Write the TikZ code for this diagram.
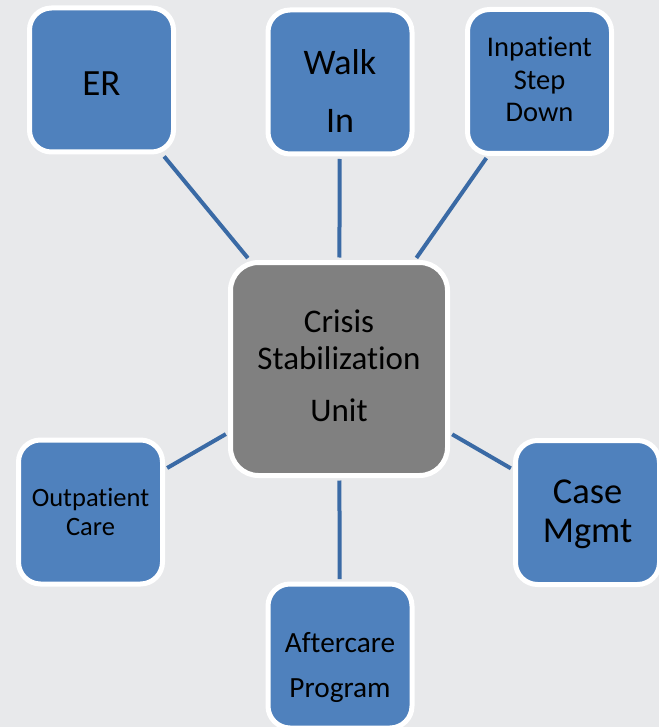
\documentclass[tikz,border=0pt]{standalone}
\usepackage{fontspec}
\setmainfont{Carlito}[Ligatures=NoCommon]
\definecolor{csbg}{RGB}{232,233,235}
\definecolor{csblue}{RGB}{79,129,189}
\definecolor{csgray}{RGB}{128,128,128}
\definecolor{csline}{RGB}{58,106,165}
\usetikzlibrary{positioning}

\begin{document}
\begin{tikzpicture}[x=1pt,y=-1pt,
  box/.style={draw=white,line width=5pt,rounded corners=22pt,fill=csblue,minimum width=144pt,minimum height=144pt,inner sep=0pt},
  hub/.style={box,fill=csgray,minimum width=217pt,minimum height=213pt,rounded corners=28pt},
  txt/.style={align=center,inner sep=0pt,text=black},
  link/.style={csline,line width=4pt,shorten <=2.5pt,shorten >=2.5pt}]
  \useasboundingbox (0,0) rectangle (659,727);
  \fill[csbg] (0,0) rectangle (659,727);
  % Hub
  \node[hub] (csu) at (339,369) {};
  % Surrounding services
  \node[box] (er) at (101.5,80) {};
  \node[box] (walk) at (340,82) {};
  \node[box] (inpt) at (539.5,81.5) {};
  \node[box] (casem) at (587.5,512.5) {};
  \node[box] (outpt) at (90.5,512) {};
  \node[box] (after) at (340,656) {};
  % Labels
  \node[txt,font=\fontsize{33pt}{37pt}\selectfont] (csu-t) at ([yshift=3pt]csu.center) {Crisis\\Stabilization\\[15pt]Unit};
  \node[txt,font=\fontsize{37pt}{43pt}\selectfont] (er-t) at ([yshift=-4pt]er.center) {ER};
  \node[txt,font=\fontsize{36pt}{58pt}\selectfont] (walk-t) at ([yshift=-9.5pt]walk.center) {Walk\\In};
  \node[txt,font=\fontsize{28.5pt}{32.5pt}\selectfont] (inpt-t) at ([yshift=2pt]inpt.center) {Inpatient\\Step\\Down};
  \node[txt,font=\fontsize{36.5pt}{39pt}\selectfont] (casem-t) at ([yshift=-2pt]casem.center) {Case\\Mgmt};
  \node[txt,font=\fontsize{26.5pt}{29pt}\selectfont] (outpt-t) at (outpt.center) {Outpatient\\Care};
  \node[txt,font=\fontsize{29.3pt}{45pt}\selectfont] (after-t) at ([yshift=-11pt]after.center) {Aftercare\\Program};
  % Connectors
  \foreach \b in {er,walk,inpt,casem,outpt,after}
    \draw[link] (csu) -- (\b);
\end{tikzpicture}
\end{document}
